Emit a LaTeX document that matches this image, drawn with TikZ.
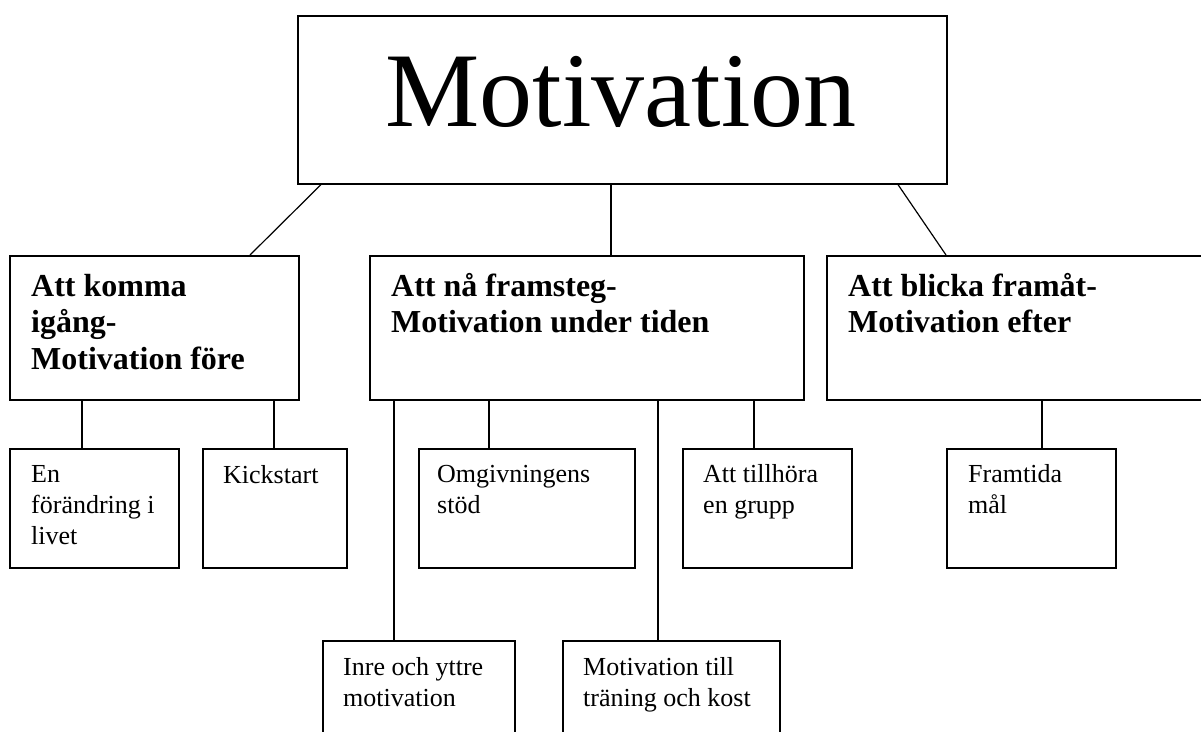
\documentclass[tikz,border=0pt]{standalone}
\usepackage{fontspec}
\setmainfont{Liberation Serif}
\begin{document}
\begin{tikzpicture}[x=1pt,y=-1pt,
  box/.style={draw, line width=1.6pt, rectangle, inner sep=0pt, anchor=north west},
  conn/.style={line width=1.2pt},
  hd/.style={inner sep=0pt, anchor=north west, align=left, font=\fontsize{32}{36.5}\selectfont\bfseries},
  lf/.style={inner sep=0pt, anchor=north west, align=left, font=\fontsize{26}{31}\selectfont}]
\useasboundingbox (0,0) rectangle (1201,731);
\clip (0,0) rectangle (1201,731);
% boxes
\node[box, minimum width=649pt, minimum height=168pt] (top) at (297,15) {};
\node[box, minimum width=289pt, minimum height=144pt] (b1) at (9,255) {};
\node[box, minimum width=434pt, minimum height=144pt] (b2) at (369,255) {};
\node[box, minimum width=400pt, minimum height=144pt] (b3) at (826,255) {};
\node[box, minimum width=169pt, minimum height=119pt] (l1) at (9,448) {};
\node[box, minimum width=144pt, minimum height=119pt] (l2) at (202,448) {};
\node[box, minimum width=216pt, minimum height=119pt] (l3) at (418,448) {};
\node[box, minimum width=169pt, minimum height=119pt] (l4) at (682,448) {};
\node[box, minimum width=169pt, minimum height=119pt] (l5) at (946,448) {};
\node[box, minimum width=192pt, minimum height=119pt] (l6) at (322,640) {};
\node[box, minimum width=217pt, minimum height=119pt] (l7) at (562,640) {};
% connectors
\draw[conn] ([xshift=24pt]top.south west) -- ([xshift=241pt]b1.north west);
\draw[conn] ([xshift=314pt]top.south west) -- ([xshift=242pt]b2.north west);
\draw[conn] ([xshift=601pt]top.south west) -- ([xshift=120pt]b3.north west);
\draw[conn] ([xshift=73pt]b1.south west) -- ([xshift=73pt]l1.north west);
\draw[conn] ([xshift=265pt]b1.south west) -- ([xshift=72pt]l2.north west);
\draw[conn] ([xshift=25pt]b2.south west) -- ([xshift=72pt]l6.north west);
\draw[conn] ([xshift=120pt]b2.south west) -- ([xshift=71pt]l3.north west);
\draw[conn] ([xshift=289pt]b2.south west) -- ([xshift=96pt]l7.north west);
\draw[conn] ([xshift=385pt]b2.south west) -- ([xshift=72pt]l4.north west);
\draw[conn] ([xshift=216pt]b3.south west) -- ([xshift=96pt]l5.north west);
% texts
\node[font=\fontsize{106}{120}\selectfont, anchor=base, inner sep=0pt] (tt) at (621,126) {Motivation};
\node[hd] (t1) at (31,270) {\rule{0pt}{26pt}Att komma\\igång-\\Motivation före};
\node[hd] (t2) at (391,270) {\rule{0pt}{26pt}Att nå framsteg-\\Motivation under tiden};
\node[hd] (t3) at (848,270) {\rule{0pt}{26pt}Att blicka framåt-\\Motivation efter};
\node[lf] (x1) at (31,462) {\rule{0pt}{20pt}En\\förändring i\\livet};
\node[lf] (x2) at (223,463) {\rule{0pt}{20pt}Kickstart};
\node[lf] (x3) at (437,462) {\rule{0pt}{20pt}Omgivningens\\stöd};
\node[lf] (x4) at (703,462) {\rule{0pt}{20pt}Att tillhöra\\en grupp};
\node[lf] (x5) at (968,462) {\rule{0pt}{20pt}Framtida\\mål};
\node[lf] (x6) at (343,655) {\rule{0pt}{20pt}Inre och yttre\\motivation};
\node[lf] (x7) at (583,655) {\rule{0pt}{20pt}Motivation till\\träning och kost};
\end{tikzpicture}
\end{document}
